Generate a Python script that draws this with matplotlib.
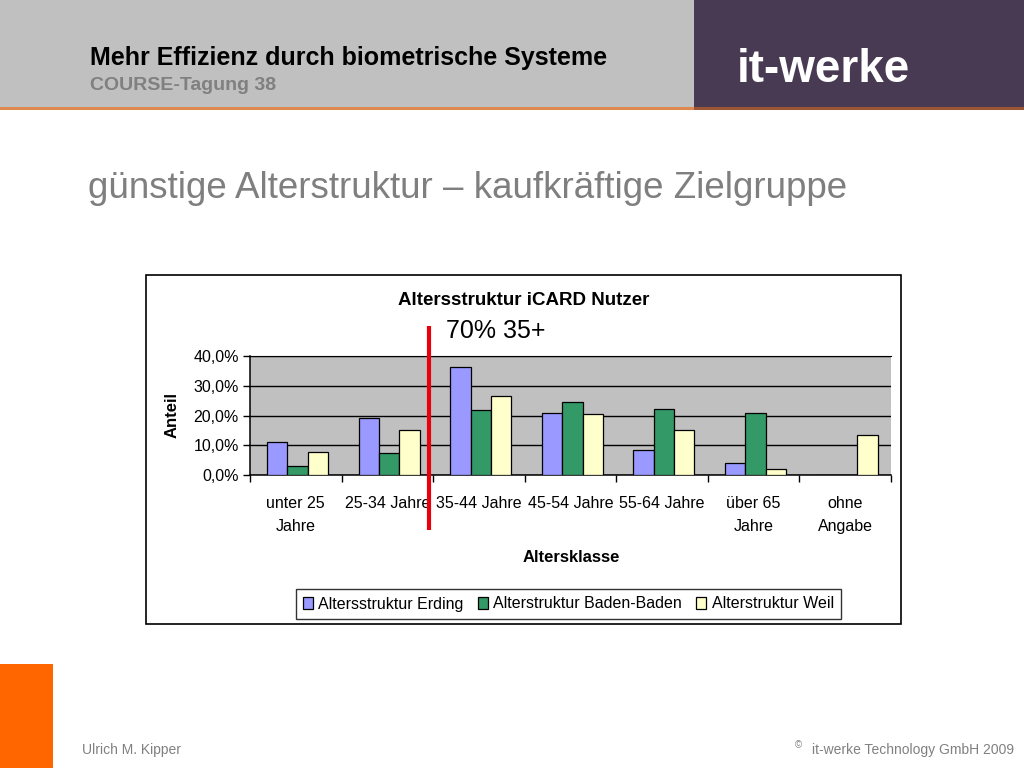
import numpy as np
import matplotlib.pyplot as plt
from matplotlib.patches import Rectangle
import matplotlib.transforms as mtransforms

plt.rcParams['font.family'] = ['Liberation Sans', 'DejaVu Sans']

categories = ['unter 25\nJahre', '25-34 Jahre', '35-44 Jahre', '45-54 Jahre',
              '55-64 Jahre', 'über 65\nJahre', 'ohne\nAngabe']
erding = [11.2, 19.0, 36.3, 20.9, 8.4, 4.1, 0.0]
baden = [3.1, 7.4, 21.9, 24.7, 22.3, 20.9, 0.0]
weil = [7.8, 15.0, 26.5, 20.6, 15.0, 1.9, 13.5]
series_names = ['Altersstruktur Erding', 'Alterstruktur Baden-Baden', 'Alterstruktur Weil']
series_colors = ['#9999ff', '#339966', '#ffffcc']
yticks = [0, 10, 20, 30, 40]

W, H = 1024, 768
fig = plt.figure(figsize=(W / 100, H / 100), dpi=100)
fig.patch.set_facecolor('white')


def px(x, y):
    return x / W, 1 - y / H


# header
fig.patches.append(Rectangle((0, 1 - 107 / H), 694 / W, 107 / H, transform=fig.transFigure,
                             facecolor='#c0c0c0', edgecolor='none', zorder=0))
fig.patches.append(Rectangle((694 / W, 1 - 107 / H), 330 / W, 107 / H, transform=fig.transFigure,
                             facecolor='#483a52', edgecolor='none', zorder=0))
fig.patches.append(Rectangle((0, 1 - 110 / H), 694 / W, 3 / H, transform=fig.transFigure,
                             facecolor='#e0884e', edgecolor='none', zorder=1))
fig.patches.append(Rectangle((694 / W, 1 - 110 / H), 330 / W, 3 / H, transform=fig.transFigure,
                             facecolor='#9c5535', edgecolor='none', zorder=1))
fig.text(*px(90, 58), 'Mehr Effizienz durch biometrische Systeme', fontsize=18,
         fontweight='bold', color='black', va='center', ha='left')
fig.text(*px(90, 85), 'COURSE-Tagung 38', fontsize=14, fontweight='bold',
         color='#808080', va='center', ha='left')
fig.text(*px(823, 70), 'it-werke', fontsize=33, fontweight='bold', color='white',
         va='center', ha='center')

# slide title
fig.text(*px(88, 188), 'günstige Alterstruktur – kaufkräftige Zielgruppe', fontsize=26.5,
         color='#7f7f7f', va='center', ha='left')

# orange block bottom left
fig.patches.append(Rectangle((0, 0), 53 / W, (768 - 664) / H, transform=fig.transFigure,
                             facecolor='#ff6600', edgecolor='none'))

# footer
fig.text(*px(82, 750), 'Ulrich M. Kipper', fontsize=10, color='#808080', va='center')
fig.text(*px(1014, 750), 'it-werke Technology GmbH 2009', fontsize=10, color='#808080',
         va='center', ha='right')
fig.text(*px(795, 745), '©', fontsize=7, color='#808080', va='center', ha='left')

# chart frame
fig.patches.append(Rectangle(px(146, 624), (901 - 146) / W, (624 - 275) / H,
                             transform=fig.transFigure, facecolor='white',
                             edgecolor='black', linewidth=1.2, zorder=0.5))

ax = fig.add_axes([250 / W, 1 - 475 / H, (891 - 250) / W, (475 - 356) / H])
ax.set_zorder(2)
ax.set_facecolor('#c0c0c0')

x = np.arange(len(categories))
bw = 1 / 4.5
for i, (vals, name, col) in enumerate(zip([erding, baden, weil], series_names, series_colors)):
    ax.bar(x + (i - 1) * bw + 0.02, vals, width=bw, color=col, edgecolor='black',
           linewidth=0.9, label=name, zorder=3)

ax.set_xlim(-0.5, len(categories) - 0.5)
ax.set_ylim(0, 40)
ax.set_yticks(yticks)
ax.set_yticklabels([f'{v:.1f}%'.replace('.', ',') for v in yticks], fontsize=11.5)
ax.yaxis.grid(True, color='black', linewidth=1.0)
ax.set_axisbelow(True)
ax.tick_params(axis='y', direction='out', length=5, width=1, pad=3)

ax.set_xticks(np.arange(-0.5, len(categories)), labels=[''] * (len(categories) + 1))
ax.tick_params(axis='x', which='major', direction='out', length=5, width=1)
ax.set_xticks(x, minor=True)
ax.set_xticklabels(categories, minor=True, fontsize=11.5, linespacing=1.65)
ax.tick_params(axis='x', which='minor', length=0, pad=15)

ax.spines['right'].set_visible(False)
ax.spines['top'].set_color('black')
for s in ['left', 'bottom']:
    ax.spines[s].set_linewidth(1.1)

# chart texts
fig.text(*px(524, 301), 'Altersstruktur iCARD Nutzer', fontsize=13.5, fontweight='bold',
         ha='center', va='center', zorder=3)
fig.text(*px(172, 415), 'Anteil', fontsize=12, fontweight='bold', rotation=90,
         ha='center', va='center', zorder=3)
fig.text(*px(571, 557), 'Altersklasse', fontsize=12, fontweight='bold',
         ha='center', va='center', zorder=3)

# red marker line and annotation
trans = mtransforms.blended_transform_factory(ax.transData, ax.transAxes)
ax.plot([1.455, 1.455], [-0.46, 1.255], color='#e8000b', linewidth=3, transform=trans,
        clip_on=False, zorder=5, solid_capstyle='butt')
ax.text(1.64, 1.21, '70% 35+', fontsize=18, transform=trans, ha='left', va='center')

leg = fig.legend(loc='center', bbox_to_anchor=((291 + 846) / 2 / W, 1 - 604 / H),
                 ncol=3, fontsize=11.5, frameon=True, fancybox=False, edgecolor='black',
                 handlelength=0.6, handleheight=0.8, handletextpad=0.35, columnspacing=0.9,
                 borderpad=0.45, borderaxespad=0)
leg.get_frame().set_linewidth(1.0)
leg.set_zorder(3)

fig.savefig('out.png', dpi=100)
